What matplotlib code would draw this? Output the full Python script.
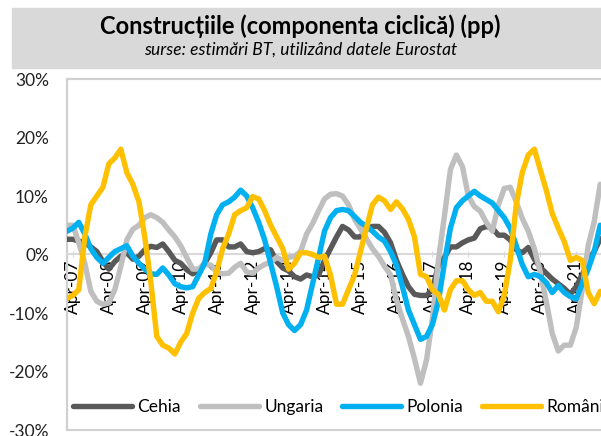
import matplotlib
matplotlib.use("Agg")
import matplotlib.pyplot as plt
import matplotlib.dates as mdates
from matplotlib.patches import Rectangle
import pandas as pd

# bi-monthly observations, Feb-07 .. Dec-21 (pp)
dates = pd.date_range("2007-02-01", periods=90, freq="2MS")

cehia = [2.6, 2.6, 2.3, 2.0, 1.3, 0.5, -1.2, -2.5, -1.2, -0.3,
         0.3, -0.8, -0.3, 0.8, 1.4, 1.2, 1.8, 0.5, -1.0, -1.5,
         -2.6, -3.3, -2.7, -1.5, 0.3, 2.5, 2.5, 1.3, 1.3, 1.8,
         0.5, 0.3, 0.5, 1.0, 0.8, -1.2, -2.3, -2.8, -3.8, -4.2,
         -3.5, -3.8, -3.5, -1.0, 1.0, 3.0, 4.8, 4.2, 3.0, 3.0,
         4.3, 4.8, 4.8, 3.8, 2.0, -1.0, -3.4, -5.5, -6.8, -7.0,
         -7.0, -6.0, -1.8, -0.5, 1.3, 1.3, 2.0, 2.5, 2.8, 4.4,
         4.8, 4.5, 3.3, 3.3, 2.5, 0.8, 0.3, 1.2, -0.8, -2.2,
         -3.2, -4.2, -5.0, -5.8, -6.8, -5.5, -3.5, -1.0, 0.5, 2.7]

ungaria = [5.0, 5.0, 2.0, -1.5, -6.3, -8.0, -8.5, -8.3, -6.0, -2.0,
           2.5, 4.3, 5.0, 6.3, 6.8, 6.3, 5.5, 4.2, 3.0, 1.5,
           -0.5, -2.5, -2.5, -1.7, -1.8, -3.0, -3.3, -3.2, -2.2, -1.5,
           -3.0, -3.2, -2.3, -1.7, -1.3, -0.5, -1.0, -0.5, -0.3, 0.5,
           3.5, 5.3, 7.5, 9.5, 10.3, 10.4, 10.0, 8.5, 6.0, 4.4,
           2.7, 1.0, -0.3, -2.0, -3.5, -7.8, -11.0, -14.0, -17.8, -22.0,
           -18.0, -11.0, -1.0, 6.5, 14.5, 17.0, 15.0, 10.0, 8.2, 7.4,
           5.5, 4.0, 8.5, 11.3, 11.5, 9.0, 6.2, 4.0, 1.0, -3.0,
           -8.0, -13.5, -16.5, -15.5, -15.5, -12.5, -6.0, 1.5, 5.6, 12.0]

polonia = [4.0, 4.5, 5.5, 3.5, 1.0, -0.5, -1.5, -0.5, 0.5, 1.0,
           1.5, -0.3, -1.5, -2.5, -3.3, -3.4, -2.3, -3.5, -5.0, -5.5,
           -5.7, -5.5, -3.5, -1.5, 3.5, 6.8, 8.5, 9.0, 9.8, 11.0,
           10.0, 8.0, 5.5, 2.5, -1.5, -5.5, -10.0, -12.0, -13.0, -12.0,
           -9.5, -5.0, -0.5, 4.0, 6.3, 7.5, 7.7, 7.5, 6.5, 5.5,
           4.8, 4.0, 3.0, 2.3, 0.5, -1.8, -5.5, -9.5, -12.0, -14.5,
           -14.0, -12.0, -8.0, -1.5, 4.5, 8.0, 9.2, 10.0, 10.8, 10.0,
           9.4, 8.8, 7.5, 6.3, 4.5, 1.5, -1.7, -3.8, -3.4, -3.8,
           -4.8, -6.5, -5.3, -6.5, -7.2, -7.6, -5.0, -2.5, 0.5, 5.0]

romania = [-7.5, -7.0, -6.0, 3.0, 8.5, 10.0, 11.5, 15.5, 16.5, 18.0,
           14.0, 12.0, 9.0, 3.0, -4.6, -14.0, -15.5, -16.0, -17.0, -15.0,
           -13.5, -10.0, -7.5, -6.5, -5.8, -3.0, 1.0, 3.5, 6.8, 7.5,
           8.0, 9.9, 9.5, 7.5, 5.0, 3.0, 1.0, -2.5, -1.5, 0.3,
           0.3, 0.0, -0.5, -0.3, -3.5, -8.5, -8.5, -6.0, -3.5, 0.5,
           4.5, 8.5, 9.8, 9.2, 7.7, 9.0, 7.8, 6.0, 3.0, -3.4,
           -3.8, -6.0, -6.8, -9.5, -6.0, -4.5, -4.5, -6.0, -7.0, -6.5,
           -8.0, -8.0, -9.8, -7.0, -1.0, 8.5, 14.0, 17.0, 18.0, 14.5,
           11.0, 7.0, 4.5, 2.2, -1.0, -0.5, -1.0, -6.5, -8.4, -6.3]

series = [("Cehia", cehia, "#595959"),
          ("Ungaria", ungaria, "#BFBFBF"),
          ("Polonia", polonia, "#00B0F0"),
          ("România", romania, "#FFC000")]

plt.rcParams["font.family"] = ["Lato", "DejaVu Sans"]

fig = plt.figure(figsize=(6.01, 4.36), dpi=100)

# title box
fig.patches.append(Rectangle((12 / 601, 1 - 68 / 436), 1.0, 60 / 436,
                             transform=fig.transFigure, color="#D9D9D9",
                             zorder=0))
fig.text(0.5, 1 - 26 / 436, "Construcțiile (componenta ciclică) (pp)",
         ha="center", va="center", fontsize=17, fontweight="bold")
fig.text(0.5, 1 - 50 / 436, "surse: estimări BT, utilizând datele Eurostat",
         ha="center", va="center", fontsize=12.5, style="italic")

ax = fig.add_axes([67 / 601, 6 / 436, 552 / 601, 351 / 436])

for name, vals, col in series:
    ax.plot(dates, vals, color=col, lw=3.9, label=name, zorder=3,
            solid_capstyle="round", solid_joinstyle="round")

ax.set_ylim(-30, 30)
ax.set_yticks(range(-30, 31, 10))
ax.set_yticklabels(["{}%".format(v) for v in range(-30, 31, 10)])
ax.set_xlim(pd.Timestamp("2007-02-01"), pd.Timestamp("2022-06-10"))

ax.xaxis.set_major_locator(mdates.MonthLocator(bymonth=4))
ax.xaxis.set_major_formatter(mdates.DateFormatter("%b-%y"))

for s in ["top", "left", "right"]:
    ax.spines[s].set_color("#D0D0D0")
    ax.spines[s].set_linewidth(1.5)
ax.spines["bottom"].set_position(("data", 0))
ax.spines["bottom"].set_color("#D9D9D9")
ax.spines["bottom"].set_linewidth(1.5)
ax.add_patch(Rectangle((0, 0), 1, 1, transform=ax.transAxes, fill=False,
                       ec="#D0D0D0", lw=1.5, clip_on=False, zorder=1))

ax.tick_params(axis="y", length=0, pad=13, labelsize=12.5, labelcolor="#222222")
ax.tick_params(axis="x", direction="inout", length=5, color="#D9D9D9",
               labelrotation=90, labelsize=12.5, pad=1)

ax.legend(loc="center", bbox_to_anchor=(0.5, 0.065), ncol=4, frameon=False,
          fontsize=12.5, handlelength=3.4, handletextpad=0.3,
          columnspacing=1.1)

fig.savefig("out.png", dpi=100)
